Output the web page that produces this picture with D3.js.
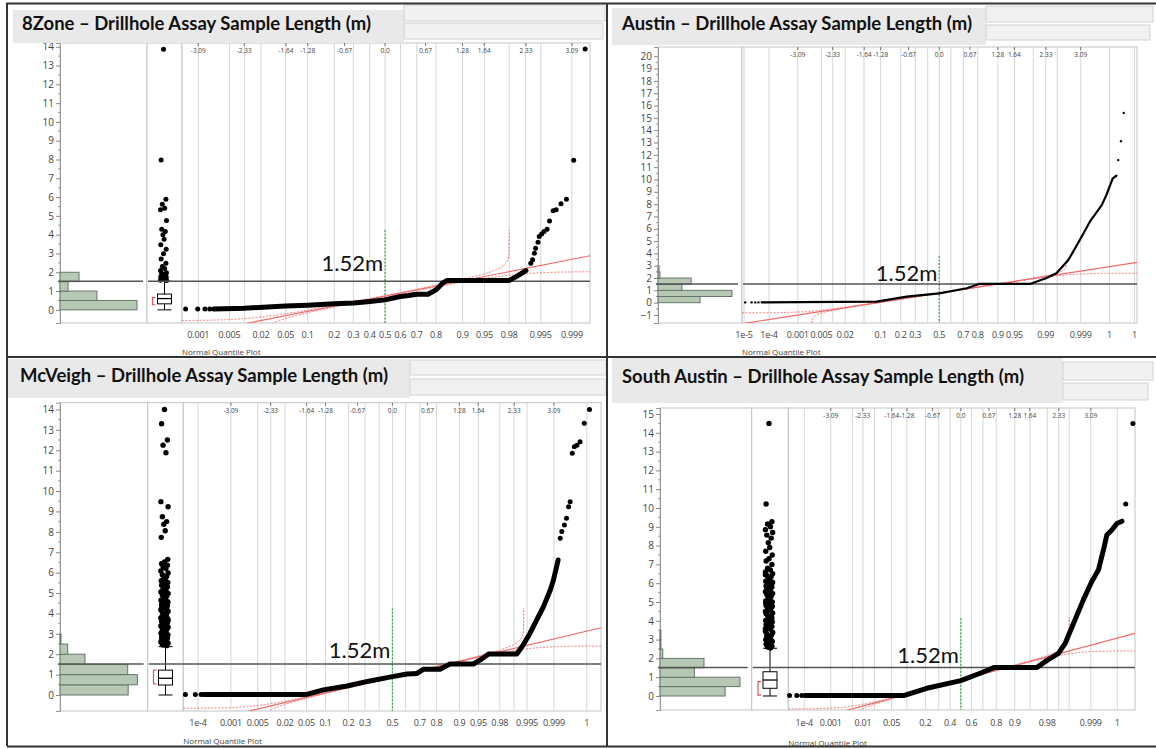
<!DOCTYPE html>
<html><head><meta charset="utf-8">
<script src="https://cdn.jsdelivr.net/npm/d3@7"></script>
<style>
body{margin:0;background:#fff}
svg{display:block}
text{font-family:"Open Sans","Noto Sans",sans-serif}
</style>
</head><body>
<svg id="c" width="1156" height="749"></svg>
<script>
// ---------------- DATA ----------------
const titles = [
  "8Zone – Drillhole Assay Sample Length (m)",
  "Austin – Drillhole Assay Sample Length (m)",
  "McVeigh – Drillhole Assay Sample Length (m)",
  "South Austin – Drillhole Assay Sample Length (m)"
];
const refLength = 1.52;
const refLabel = "1.52m";
const axisTitle = "Normal Quantile Plot";

// top axis: normal quantiles
const zTickValues = [-3.09,-2.33,-1.64,-1.28,-0.67,0.0,0.67,1.28,1.64,2.33,3.09];
const zTickLabels = ["-3.09","-2.33","-1.64","-1.28","-0.67","0.0","0.67","1.28","1.64","2.33","3.09"];

// bottom axis: probabilities (labelled ticks) and grid probabilities
const zone8ProbTicks  = [0.001,0.005,0.02,0.05,0.1,0.2,0.3,0.4,0.5,0.6,0.7,0.8,0.9,0.95,0.98,0.995,0.999];
const zone8ProbLabels = ["0.001","0.005","0.02","0.05","0.1","0.2","0.3","0.4","0.5","0.6","0.7","0.8","0.9","0.95","0.98","0.995","0.999"];
const zone8Grid = [0.001,0.005,0.01,0.02,0.05,0.1,0.2,0.3,0.4,0.5,0.6,0.7,0.8,0.9,0.95,0.98,0.99,0.995,0.999];

const austinProbTicks  = [1e-5,1e-4,0.001,0.005,0.02,0.1,0.2,0.3,0.5,0.7,0.8,0.9,0.95,0.99,0.999,0.9999,0.99999];
const austinProbLabels = ["1e-5","1e-4","0.001","0.005","0.02","0.1","0.2","0.3","0.5","0.7","0.8","0.9","0.95","0.99","0.999","1","1"];
const austinGrid = [1e-5,1e-4,0.001,0.005,0.01,0.02,0.05,0.1,0.2,0.3,0.4,0.5,0.6,0.7,0.8,0.9,0.95,0.98,0.99,0.995,0.999,0.9999,0.99999];

const mcveighProbTicks  = [1e-4,0.001,0.005,0.02,0.05,0.1,0.2,0.3,0.5,0.7,0.8,0.9,0.95,0.98,0.995,0.999,0.9999];
const mcveighProbLabels = ["1e-4","0.001","0.005","0.02","0.05","0.1","0.2","0.3","0.5","0.7","0.8","0.9","0.95","0.98","0.995","0.999","1"];
const mcveighGrid = [1e-4,0.001,0.005,0.01,0.02,0.05,0.1,0.2,0.3,0.4,0.5,0.6,0.7,0.8,0.9,0.95,0.98,0.99,0.995,0.999,0.9999];

const southAustinProbTicks  = [1e-4,0.001,0.01,0.05,0.2,0.4,0.6,0.8,0.9,0.98,0.999,0.9999];
const southAustinProbLabels = ["1e-4","0.001","0.01","0.05","0.2","0.4","0.6","0.8","0.9","0.98","0.999","1"];
const southAustinGrid = [1e-4,0.001,0.005,0.01,0.02,0.05,0.1,0.2,0.3,0.4,0.5,0.6,0.7,0.8,0.9,0.95,0.98,0.99,0.995,0.999,0.9999];

// histogram bins (m) and relative frequencies (%)
const histBins = [0,0.5,1,1.5,2,2.5,3,3.5];
const zone8Hist       = [54.6,26.2,5.7,13.5];
const austinHist      = [23.9,42.0,13.6,18.8,1.1,0.6];
const mcveighHist     = [27.6,31.3,27.4,10.1,3.1,0.4];
const southAustinHist = [28.4,34.9,15.0,19.2,1.2,0.4,0.4];

// box plots: [lower whisker, q1, median, q3, upper whisker], shortest half
const zone8Box       = [0,0.32,0.60,0.84,1.52];
const mcveighBox     = [0,0.49,0.82,1.22,2.37];
const southAustinBox = [0,0.41,0.85,1.29,2.54];
const zone8Short       = [0.27,0.65];
const mcveighShort     = [0.54,1.22];
const southAustinShort = [0.05,0.76];

// box plot outliers (m)
const zone8Outliers = [13.87,7.98,5.89,5.62,5.41,5.32,4.75,4.29,4.17,3.99,3.76,3.46,3.23,2.98,2.70,2.48,2.30,2.20,2.09,1.98,1.95,1.90,1.86,1.81,1.78,1.75,1.71,1.68,1.65,1.62,1.60,1.58,1.56];
const mcveighOutliers = [14.0,13.3,12.5,12.25,11.88,9.48,9.23,8.74,8.5,8.37,8.05,7.73,
  6.65,6.52,6.44,6.36,6.28,6.2,6.08,5.98,5.9,5.81,5.75,5.69,5.6,5.52,5.44,5.38,5.3,5.21,5.12,5.05,4.98,4.9,4.84,4.77,4.7,4.63,4.57,4.5,4.44,4.38,4.3,4.24,4.18,4.1,4.04,3.98,3.92,3.86,3.8,3.74,3.68,3.62,3.56,3.5,3.44,3.38,3.32,3.26,3.2,3.14,3.08,3.02,2.96,2.9,2.84,2.78,2.72,2.66,2.6,2.54,2.48,2.42,
  4.95,4.81,4.66,4.53,4.41,4.27,4.14,4.01,3.89,3.77,3.65,3.53,3.41,3.29,3.17,3.05,2.93,2.81,2.69,2.57,2.45];
const southAustinOutliers = [14.5,10.21,9.27,9.15,9.0,8.85,8.7,8.56,8.4,8.15,7.9,7.7,7.5,7.3,7.18,7.0,
  6.8,6.7,6.6,6.5,6.42,6.35,6.25,6.2,6.1,6.02,5.95,5.85,5.8,5.7,5.62,5.55,5.45,5.4,5.3,5.22,5.15,5.05,5.0,4.9,4.82,4.75,4.65,4.6,4.5,4.42,4.35,4.25,4.2,4.1,4.02,3.95,3.85,3.8,3.7,3.62,3.55,3.45,3.4,3.3,3.22,3.15,3.05,3.0,2.9,2.82,2.75,2.65,2.6,2.55,
  6.45,6.05,5.75,5.5,5.26,5.1,4.95,4.78,4.55,4.38,4.15,3.98,3.75,3.58,3.35,3.18,2.95,2.78,2.62];

// quantile plots: [normal quantile, length m] — dense trace and individual points
const zone8Curve = [[-2.84,0.05],[-2.33,0.09],[-1.645,0.2],[-1.28,0.25],[-0.84,0.32],[-0.52,0.36],[-0.25,0.44],[0,0.53],[0.25,0.71],[0.385,0.76],[0.52,0.83],[0.71,0.83],[0.84,1.06],[0.95,1.42],[1.02,1.56],[2.05,1.56],[2.17,1.77],[2.33,2.09]];
const zone8Points = [[-3.30,0.05],[-3.10,0.05],[-2.98,0.05],[-2.90,0.05],[2.41,2.48],[2.44,2.66],[2.47,3.01],[2.49,3.28],[2.53,3.6],[2.55,3.9],[2.59,4.04],[2.63,4.17],[2.68,4.29],[2.72,4.73],[2.78,5.27],[2.83,5.32],[2.91,5.64],[3.0,5.89],[3.12,7.96],[3.31,13.88]];

const austinCurve = [[-3.88,0.02],[-1.37,0.08],[-0.71,0.49],[0,0.76],[0.6,1.17],[0.87,1.52],[1.98,1.52],[2.33,1.98],[2.56,2.38],[2.82,3.46],[3.07,5.08],[3.29,6.57],[3.55,7.92],[3.65,8.73],[3.79,10.09],[3.87,10.3]];
const austinPoints = [[-4.24,0.02],[-4.10,0.02],[-4.02,0.02],[-3.95,0.02],[3.91,11.57],[3.97,13.1],[4.03,15.4]];

const mcveighCurve = [[-3.61,0.03],[-1.64,0.03],[-1.32,0.25],[-0.87,0.44],[-0.43,0.69],[0,0.9],[0.28,1.03],[0.47,1.06],[0.59,1.26],[0.91,1.26],[1.10,1.52],[1.55,1.52],[1.68,1.72],[1.84,2.01],[2.38,2.01],[2.5,2.45],[2.63,3.02],[2.76,3.68],[2.89,4.33],[3.02,5.15],[3.08,5.64],[3.14,6.29],[3.17,6.62]];
const mcveighPoints = [[-3.96,0.03],[-3.77,0.03],[-3.66,0.03],[3.21,7.68],[3.24,8.01],[3.29,8.33],[3.33,8.66],[3.37,9.23],[3.40,9.48],[3.44,11.85],[3.48,12.17],[3.53,12.25],[3.59,12.42],[3.67,13.32],[3.77,14.0]];

const southAustinCurve = [[-3.70,0.02],[-1.36,0.02],[-0.81,0.41],[0,0.82],[0.46,1.21],[0.80,1.52],[1.81,1.52],[2.04,1.88],[2.32,2.27],[2.48,2.8],[2.68,3.87],[2.91,5.1],[3.11,6.08],[3.27,6.7],[3.39,7.77],[3.47,8.56],[3.59,8.83],[3.71,9.18],[3.83,9.3]];
const southAustinPoints = [[-4.07,0.02],[-3.90,0.02],[-3.78,0.02],[3.92,10.21],[4.09,14.5]];

// normal fit (mean, sd) and Lilliefors band half-width
const fitMean = [0.73,0.78,0.875,0.857];
const fitSD   = [0.634,0.576,0.607,0.598];
const bandD   = [0.02,0.0027,0.006,0.005];
const bandCap = [4.25,3.5,4.26,4.2];
const medianMarkTop = [4.25,3.79,4.25,4.13];

// ---------------- LAYOUT ----------------
const layouts = [
 {bar:[13,10,404,43], hdr:[[404,5,605,21],[404,23,603,39]], tx:22, ty:30, tw:349,
  axisX:60, histR:147, boxR:182, qqR:590, top:43, bottom:323, yDom:[-0.7,14.2], yTicks:[0,14],
  zDom:[-3.36,3.39], histMax:61.7, jit:3, dotR:2.5, outR:2.5, curveW:5, lift:10.7, probY:337.5, nqpY:355},
 {bar:[612,8,986,45], hdr:[[986,6,1153,22],[986,25,1150,40]], tx:622, ty:30, tw:350,
  axisX:658, histR:742, boxR:null, qqR:1137, top:47, bottom:323, yDom:[-1.65,20.75], yTicks:[-1,20],
  zDom:[-4.31,4.32], histMax:47.7, jit:0, dotR:1.2, outR:1.2, curveW:2.2, lift:2.6, probY:337.5, nqpY:355},
 {bar:[8,359,410,398], hdr:[[410,360,606,375],[410,379,606,395]], tx:20, ty:382, tw:368,
  axisX:60, histR:147.7, boxR:183.3, qqR:601, top:402.7, bottom:711, yDom:[-0.784,14.33], yTicks:[0,14],
  zDom:[-4.0,3.99], histMax:35.5, jit:3.6, dotR:2.5, outR:2.7, curveW:5, lift:6.3, probY:726, nqpY:744},
 {bar:[612,358,1063,403], hdr:[[1063,362,1153,380],[1063,383,1148,400]], tx:622, ty:383, tw:402,
  axisX:660, histR:751.7, boxR:788.3, qqR:1135, top:408, bottom:710, yDom:[-0.745,15.32], yTicks:[0,15],
  zDom:[-4.1,4.14], histMax:40, jit:3.6, dotR:2.5, outR:2.7, curveW:5, lift:4, probY:726, nqpY:746}
];

const panels = [
 {hist:zone8Hist, box:zone8Box, shortHalf:zone8Short, outliers:zone8Outliers, curve:zone8Curve, points:zone8Points,
  probTicks:zone8ProbTicks, probLabels:zone8ProbLabels, grid:zone8Grid},
 {hist:austinHist, box:null, shortHalf:null, outliers:[], curve:austinCurve, points:austinPoints,
  probTicks:austinProbTicks, probLabels:austinProbLabels, grid:austinGrid},
 {hist:mcveighHist, box:mcveighBox, shortHalf:mcveighShort, outliers:mcveighOutliers, curve:mcveighCurve, points:mcveighPoints,
  probTicks:mcveighProbTicks, probLabels:mcveighProbLabels, grid:mcveighGrid},
 {hist:southAustinHist, box:southAustinBox, shortHalf:southAustinShort, outliers:southAustinOutliers, curve:southAustinCurve, points:southAustinPoints,
  probTicks:southAustinProbTicks, probLabels:southAustinProbLabels, grid:southAustinGrid}
];

const jitterPattern = [0,-0.8,0.8,-0.4,0.4,-1,1,-0.6,0.6,-0.2,0.2,-0.9,0.9];

// ---------------- helpers ----------------
function probit(p){
  const a=[-3.969683028665376e+01,2.209460984245205e+02,-2.759285104469687e+02,1.383577518672690e+02,-3.066479806614716e+01,2.506628277459239e+00];
  const b=[-5.447609879822406e+01,1.615858368580409e+02,-1.556989798598866e+02,6.680131188771972e+01,-1.328068155288572e+01];
  const c=[-7.784894002430293e-03,-3.223964580411365e-01,-2.400758277161838e+00,-2.549732539343734e+00,4.374664141464968e+00,2.938163982698783e+00];
  const d=[7.784695709041462e-03,3.224671290700398e-01,2.445134137142996e+00,3.754408661907416e+00];
  const pl=0.02425;
  if(p<pl){const q=Math.sqrt(-2*Math.log(p));return (((((c[0]*q+c[1])*q+c[2])*q+c[3])*q+c[4])*q+c[5])/((((d[0]*q+d[1])*q+d[2])*q+d[3])*q+1);}
  if(p<=1-pl){const q=p-0.5,r=q*q;return (((((a[0]*r+a[1])*r+a[2])*r+a[3])*r+a[4])*r+a[5])*q/(((((b[0]*r+b[1])*r+b[2])*r+b[3])*r+b[4])*r+1);}
  const q=Math.sqrt(-2*Math.log(1-p));return -(((((c[0]*q+c[1])*q+c[2])*q+c[3])*q+c[4])*q+c[5])/((((d[0]*q+d[1])*q+d[2])*q+d[3])*q+1);
}
function Phi(z){
  const t=1/(1+0.2316419*Math.abs(z));
  const dens=Math.exp(-z*z/2)/Math.sqrt(2*Math.PI);
  const poly=t*(0.319381530+t*(-0.356563782+t*(1.781477937+t*(-1.821255978+t*1.330274429))));
  const c=1-dens*poly;
  return z>=0?c:1-c;
}

// ---------------- DRAW ----------------
const svg = d3.select("#c");
const GRID="#d6d6d6", FRAME="#c4c4c4", RED="#f06a6a";

panels.forEach((P,i)=>{
  const L = layouts[i];
  const g = svg.append("g");
  const y = d3.scaleLinear().domain(L.yDom).range([L.bottom, L.top]);
  const qqL = L.boxR==null ? L.histR : L.boxR;
  const xq = d3.scaleLinear().domain(L.zDom).range([qqL, L.qqR]);
  const xh = d3.scaleLinear().domain([0, L.histMax]).range([L.axisX, L.histR]);

  // frames
  g.append("rect").attr("x",L.axisX).attr("y",L.top).attr("width",L.histR-L.axisX).attr("height",L.bottom-L.top)
    .attr("fill","#fff").attr("stroke",FRAME);
  if(L.boxR!=null) g.append("rect").attr("x",L.histR).attr("y",L.top).attr("width",L.boxR-L.histR).attr("height",L.bottom-L.top)
    .attr("fill","#fff").attr("stroke",FRAME);
  g.append("rect").attr("x",qqL).attr("y",L.top).attr("width",L.qqR-qqL).attr("height",L.bottom-L.top)
    .attr("fill","#fff").attr("stroke",FRAME);

  // y axis
  const ax = g.append("g").attr("transform",`translate(${L.axisX},0)`)
    .call(d3.axisLeft(y).tickValues(d3.range(L.yTicks[0], L.yTicks[1]+1)).tickSize(4).tickFormat(d3.format("d")));
  ax.select(".domain").attr("stroke","#999");
  ax.selectAll(".tick line").attr("stroke","#888");
  ax.selectAll(".tick text").attr("fill","#444").style("font-size","10px").attr("x",-6);
  g.append("g").selectAll("line").data(d3.range(L.yTicks[0], L.yTicks[1], 1).map(v=>v+0.5))
    .join("line").attr("x1",L.axisX-2).attr("x2",L.axisX).attr("y1",d=>y(d)).attr("y2",d=>y(d)).attr("stroke","#999");

  // histogram
  g.append("g").selectAll("rect").data(P.hist).join("rect")
    .attr("x",L.axisX).attr("y",(d,k)=>y(histBins[k+1])).attr("width",d=>xh(d)-L.axisX)
    .attr("height",(d,k)=>y(histBins[k])-y(histBins[k+1]))
    .attr("fill","#b7c9b5").attr("stroke","#66766a").attr("stroke-width",1);

  // reference line 1.52
  g.append("line").attr("x1",L.axisX-2).attr("x2",L.histR-4).attr("y1",y(refLength)).attr("y2",y(refLength))
    .attr("stroke","#555").attr("stroke-width",1.5);

  // box plot
  if(P.box){
    const cx=(L.histR+L.boxR)/2, bw=14;
    const og = g.append("g");
    og.selectAll("circle").data(P.outliers).join("circle")
      .attr("cx",(d,k)=>cx-1+jitterPattern[k%jitterPattern.length]*L.jit).attr("cy",d=>y(d)).attr("r",L.outR).attr("fill","#000");
    const [lo,q1,med,q3,hi]=P.box;
    og.append("line").attr("x1",cx).attr("x2",cx).attr("y1",y(lo)).attr("y2",y(hi)).attr("stroke","#000");
    og.append("line").attr("x1",cx-bw/2).attr("x2",cx+bw/2).attr("y1",y(lo)).attr("y2",y(lo)).attr("stroke","#000");
    og.append("line").attr("x1",cx-bw/2).attr("x2",cx+bw/2).attr("y1",y(hi)).attr("y2",y(hi)).attr("stroke","#000");
    og.append("rect").attr("x",cx-bw/2).attr("y",y(q3)).attr("width",bw).attr("height",y(q1)-y(q3))
      .attr("fill","#fff").attr("stroke","#000");
    og.append("line").attr("x1",cx-bw/2).attr("x2",cx+bw/2).attr("y1",y(med)).attr("y2",y(med)).attr("stroke","#000").attr("stroke-width",1.3);
    const bx=cx-bw/2-5;
    og.append("path").attr("d",`M${bx+3},${y(P.shortHalf[1])}H${bx}V${y(P.shortHalf[0])}H${bx+3}`)
      .attr("fill","none").attr("stroke","#e05555").attr("stroke-width",1.2);
  }

  // quantile plot
  const clipId="clip"+i;
  svg.append("clipPath").attr("id",clipId).append("rect").attr("x",qqL).attr("y",L.top).attr("width",L.qqR-qqL).attr("height",L.bottom-L.top);
  const q = g.append("g");
  q.append("g").selectAll("line").data(P.grid).join("line")
    .attr("x1",d=>xq(probit(d))).attr("x2",d=>xq(probit(d))).attr("y1",L.top).attr("y2",L.bottom)
    .attr("stroke",GRID);
  // top z labels
  q.append("g").selectAll("text").data(zTickValues).join("text")
    .attr("x",d=>xq(d)).attr("y",L.top+10).attr("text-anchor","middle").attr("fill","#444")
    .style("font-size","6.5px").text((d,k)=>zTickLabels[k]);
  q.append("g").selectAll("line").data(zTickValues).join("line")
    .attr("x1",d=>xq(d)).attr("x2",d=>xq(d)).attr("y1",L.top).attr("y2",L.top+3).attr("stroke","#777");
  // bottom probability labels
  q.append("g").selectAll("text").data(P.probTicks).join("text")
    .attr("x",d=>xq(probit(d))).attr("y",L.probY).attr("text-anchor","middle").attr("fill","#444")
    .style("font-size","9px").style("letter-spacing","-0.2px").text((d,k)=>P.probLabels[k]);
  q.append("text").attr("x",qqL).attr("y",L.nqpY).attr("fill","#444").style("font-size","8px").text(axisTitle);

  const x0 = xq(0);
  // median marker (green dotted)
  q.append("line").attr("x1",x0).attr("x2",x0).attr("y1",y(medianMarkTop[i])).attr("y2",L.bottom)
    .attr("stroke","#33a844").attr("stroke-width",1.2).attr("stroke-dasharray","2,1.5");
  // reference line
  q.append("line").attr("x1",L.histR+1).attr("x2",L.qqR).attr("y1",y(refLength)).attr("y2",y(refLength))
    .attr("stroke","#555").attr("stroke-width",1.5);

  // normal fit line and confidence bands
  const m=fitMean[i], s=fitSD[i], dd=bandD[i];
  const fg=q.append("g").attr("clip-path",`url(#${clipId})`);
  const line=d3.line().x(d=>xq(d[0])).y(d=>y(d[1]));
  fg.append("path").attr("d",line(L.zDom.map(z=>[z,m+s*z]))).attr("fill","none").attr("stroke",RED).attr("stroke-width",1.2);
  const N=1200, upper=[], lower=[];
  for(let k=0;k<=N;k++){
    const z=L.zDom[0]+(L.zDom[1]-L.zDom[0])*k/N, p=Phi(z);
    if(p+dd<1){ const v=m+s*probit(p+dd); if(v<bandCap[i]) upper.push([z,v]); }
    if(p-dd>0){ lower.push([z,m+s*probit(p-dd)]); }
  }
  upper.push([probit(1-dd), bandCap[i]]);
  lower.unshift([probit(dd), L.yDom[0]-2]);
  [upper,lower].forEach(pts=>fg.append("path").attr("d",line(pts)).attr("fill","none")
    .attr("stroke",RED).attr("stroke-width",1).attr("stroke-dasharray","2,1.5"));

  // data
  q.append("path").attr("d",line(P.curve)).attr("fill","none").attr("stroke","#000")
    .attr("stroke-width",L.curveW).attr("stroke-linejoin","round").attr("stroke-linecap","round");
  q.append("g").selectAll("circle").data(P.points).join("circle")
    .attr("cx",d=>xq(d[0])).attr("cy",d=>y(d[1])).attr("r",L.dotR).attr("fill","#000");

  // 1.52m label
  q.append("text").attr("x",x0-2).attr("y",y(refLength)-L.lift).attr("text-anchor","end")
    .attr("fill","#111").style("font-family","Lato, 'Open Sans', sans-serif").style("font-size","22px").text(refLabel);

  // title bar
  g.append("rect").attr("x",L.bar[0]).attr("y",L.bar[1]).attr("width",L.bar[2]-L.bar[0]).attr("height",L.bar[3]-L.bar[1]).attr("fill","#e9e9e9");
  L.hdr.forEach(b=>g.append("rect").attr("x",b[0]).attr("y",b[1]).attr("width",b[2]-b[0]).attr("height",b[3]-b[1])
    .attr("fill","#f1f1f1").attr("stroke","#d2d2d2"));
  g.append("text").attr("x",L.tx).attr("y",L.ty).attr("fill","#111")
    .style("font-family","Lato, 'Open Sans', sans-serif").style("font-weight","bold").style("font-size","18px")
    .attr("textLength",L.tw).attr("lengthAdjust","spacingAndGlyphs").text(titles[i]);
});

// panel borders
const B = svg.append("g").attr("stroke","#333").attr("stroke-width",2).attr("fill","none");
B.append("path").attr("d","M7,746V3.5H1156");
B.append("path").attr("d","M7,746.5H1156");
B.append("path").attr("d","M607,3V747");
B.append("path").attr("d","M7,357H1156");
</script>
</body></html>
